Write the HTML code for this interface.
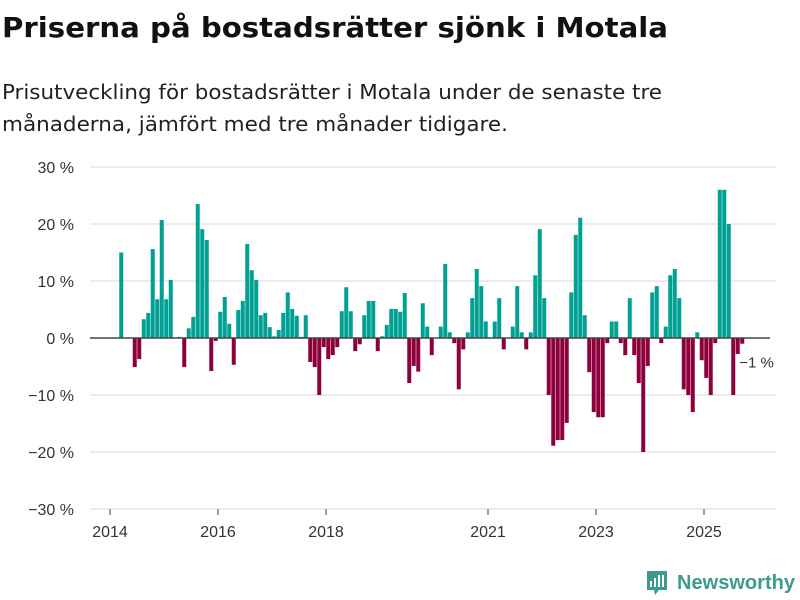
<!DOCTYPE html>
<html><head><meta charset="utf-8"><style>
body{margin:0;background:#fff;width:800px;height:600px;overflow:hidden}
svg{display:block;font-family:"Liberation Sans",sans-serif}
</style></head><body>
<svg id="c" width="800" height="600" viewBox="0 0 800 600">
<text x="2" y="37" font-size="28" font-weight="bold" fill="#111" font-family="DejaVu Sans, sans-serif" textLength="666" lengthAdjust="spacingAndGlyphs">Priserna på bostadsrätter sjönk i Motala</text>
<text x="2" y="99" font-size="20" fill="#222" font-family="DejaVu Sans, sans-serif" textLength="660" lengthAdjust="spacingAndGlyphs">Prisutveckling för bostadsrätter i Motala under de senaste tre</text>
<text x="2" y="131" font-size="20" fill="#222" font-family="DejaVu Sans, sans-serif" textLength="506" lengthAdjust="spacingAndGlyphs">månaderna, jämfört med tre månader tidigare.</text>
<g id="grid"></g>
<g id="bars"></g>
<g id="axes"></g>
<g>
<path d="M647 571h20v19h-8l-4 5-1-5h-7z" fill="#3c9a8e"/>
<rect x="650" y="581" width="2" height="6" fill="#fff"/><rect x="654" y="578" width="2" height="9" fill="#fff"/><rect x="658" y="575" width="2" height="12" fill="#fff"/><rect x="662" y="575" width="2" height="12" fill="#fff"/>
<text x="677" y="589" font-size="20" font-weight="bold" fill="#3c9a8e" textLength="118" lengthAdjust="spacingAndGlyphs">Newsworthy</text>
</g>
</svg>
<script>
const startIndex = 2; // month index from 2014-01 of first value
const values = [15,null,null,-5.1,-3.7,3.3,4.4,15.6,6.8,20.7,6.8,10.2,null,0.2,-5.1,1.7,3.7,23.5,19.1,17.2,-5.8,-0.5,4.6,7.2,2.5,-4.7,4.9,6.5,16.5,11.9,10.2,4.0,4.4,1.9,0.3,1.4,4.4,8.0,5.1,3.9,0.2,4.0,-4.2,-5.1,-10,-1.6,-3.7,-3.0,-1.6,4.7,8.9,4.7,-2.3,-1.1,4.0,6.5,6.5,-2.3,0.3,2.3,5.1,5.1,4.6,7.9,-7.9,-4.9,-5.9,6.1,2.0,-3.0,null,2.0,13.0,1.0,-0.9,-9.0,-2.0,1.0,7.0,12.1,9.1,2.9,null,2.9,7.0,-2.0,null,2.0,9.1,1.0,-2.0,1.0,11.0,19.1,7.0,-10,-18.9,-17.9,-17.9,-14.9,8.0,18.1,21.1,4.0,-6.0,-13.0,-13.9,-13.9,-0.9,2.9,2.9,-0.9,-3.0,7.0,-3.0,-7.9,-20,-4.9,8.0,9.1,-0.9,2.0,11.0,12.1,7.0,-9.0,-10,-13,1.0,-3.9,-7.0,-10,-0.9,26,26,20,-10,-2.8,-1];
const yTicks = [30,20,10,0,-10,-20,-30];
const yTickLabels = ["30 %","20 %","10 %","0 %","−10 %","−20 %","−30 %"];
const xTickYears = [2014,2016,2018,2021,2023,2025];
const lastLabel = "−1 %";

const NS="http://www.w3.org/2000/svg";
const X0=110, PX=4.5, Y0=338, PY=5.7;
function xScale(i){return X0+i*PX;}
function yScale(v){return Y0-v*PY;}
function mk(tag,attrs,parent){const e=document.createElementNS(NS,tag);for(const k in attrs)e.setAttribute(k,attrs[k]);parent.appendChild(e);return e;}
const grid=document.getElementById('grid'),bars=document.getElementById('bars'),axes=document.getElementById('axes');
yTicks.forEach((t,k)=>{
  if(t!==0){const l=mk('line',{x1:90,x2:776,y1:yScale(t),y2:yScale(t),stroke:'#e0e0e0','stroke-width':1.2},grid);
  
  }
  const tx=mk('text',{x:74,y:yScale(t)+6,'font-size':16,fill:'#333','text-anchor':'end'},axes);
  tx.textContent=yTickLabels[k];
  
  
});
values.forEach((v,k)=>{
  if(v===null)return;
  const i=startIndex+k;
  const cx=xScale(i+0.5);
  const y=Math.min(yScale(v),Y0), h=Math.abs(yScale(v)-Y0);
  const r=mk('rect',{x:cx-2,y:y,width:4,height:Math.max(h,0.8),fill:v>=0?'#00a193':'#8d003b'},bars);
  
  
});
const zl=mk('line',{x1:90,x2:770,y1:Y0,y2:Y0,stroke:'#444','stroke-width':1.6},axes);


xTickYears.forEach(yr=>{
  const x=xScale((yr-2014)*12);
  const t=mk('line',{x1:x,x2:x,y1:509,y2:515,stroke:'#444','stroke-width':1},axes);
  
  
  const tx=mk('text',{x:x,y:537,'font-size':16,fill:'#333','text-anchor':'middle'},axes);
  tx.textContent=String(yr);
  
  
});
const li=startIndex+values.length-1, lv=values[values.length-1];
const lb=mk('text',{x:xScale(li+0.5)-3,y:yScale(lv)+24,'font-size':15,fill:'#333',stroke:'#fff','stroke-width':3,'paint-order':'stroke'},axes);
lb.textContent=lastLabel;


</script>
</body></html>
